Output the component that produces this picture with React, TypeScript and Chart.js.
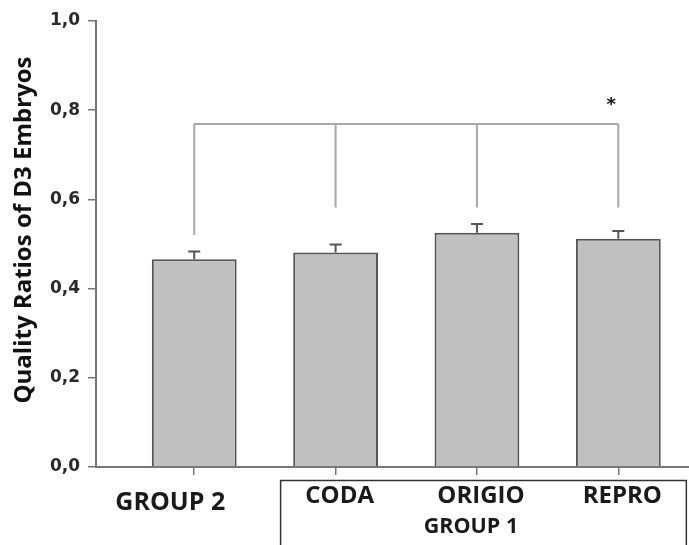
import React, { useEffect, useRef } from "react";
import { Chart, registerables } from "chart.js";

Chart.register(...registerables);

const categories = ["GROUP 2", "CODA", "ORIGIO", "REPRO"];
const values = [0.466, 0.481, 0.525, 0.512];
const errors = [0.017, 0.018, 0.02, 0.017];
const groupLabel = "GROUP 1";
const yTitle = "Quality Ratios of D3 Embryos";
const yTicks = [0, 0.2, 0.4, 0.6, 0.8, 1.0];
const bracketTop = 0.769;
const bracketDrops = [0.52, 0.582, 0.582, 0.582];
const starIndex = 3;
const starValue = 0.817;

const annotate = {
  id: "annotate",
  afterDatasetsDraw(chart: any) {
    const ctx = chart.ctx;
    const xs = chart.scales.x;
    const ys = chart.scales.y;
    ctx.save();
    // error bars
    ctx.strokeStyle = "#555";
    ctx.lineWidth = 2;
    values.forEach((v, i) => {
      const px = xs.getPixelForValue(i);
      const y0 = ys.getPixelForValue(v);
      const y1 = ys.getPixelForValue(v + errors[i]);
      ctx.beginPath();
      ctx.moveTo(px, y0);
      ctx.lineTo(px, y1);
      ctx.moveTo(px - 6, y1);
      ctx.lineTo(px + 6, y1);
      ctx.stroke();
    });
    // bracket
    ctx.strokeStyle = "#a8a8a8";
    ctx.lineWidth = 2;
    const top = ys.getPixelForValue(bracketTop);
    ctx.beginPath();
    ctx.moveTo(xs.getPixelForValue(0), top);
    ctx.lineTo(xs.getPixelForValue(categories.length - 1), top);
    bracketDrops.forEach((d, i) => {
      const px = xs.getPixelForValue(i);
      ctx.moveTo(px, top);
      ctx.lineTo(px, ys.getPixelForValue(d));
    });
    ctx.stroke();
    // star
    ctx.fillStyle = "#111";
    ctx.font = "bold 18px 'DejaVu Sans'";
    ctx.textAlign = "center";
    ctx.textBaseline = "middle";
    ctx.fillText("*", xs.getPixelForValue(starIndex) - 7, ys.getPixelForValue(starValue) + 3);
    ctx.restore();
  },
  afterDraw(chart: any) {
    const ctx = chart.ctx;
    const xs = chart.scales.x;
    const base = chart.chartArea.bottom;
    ctx.save();
    ctx.fillStyle = "#1a1a1a";
    ctx.textAlign = "center";
    ctx.textBaseline = "alphabetic";
    categories.forEach((c, i) => {
      const px = xs.getPixelForValue(i);
      if (i === 0) {
        ctx.font = "bold 25px 'Open Sans'";
        ctx.fillText(c, px - 24, base + 43);
      } else {
        ctx.font = "bold 24px 'Open Sans'";
        ctx.fillText(c, px + 4, base + 36);
      }
    });
    ctx.font = "bold 21.5px 'Open Sans'";
    ctx.fillText(groupLabel, xs.getPixelForValue(2) - 6, base + 66);
    // group box
    ctx.strokeStyle = "#333";
    ctx.lineWidth = 1.5;
    const l = xs.getPixelForValue(1) - 55;
    const r = xs.getPixelForValue(3) + 68;
    const t = base + 13.5;
    ctx.beginPath();
    ctx.moveTo(l, chart.height + 5);
    ctx.lineTo(l, t);
    ctx.lineTo(r, t);
    ctx.lineTo(r, chart.height + 5);
    ctx.stroke();
    // y title
    ctx.translate(24, 230);
    ctx.rotate(-Math.PI / 2);
    ctx.textBaseline = "middle";
    ctx.font = "bold 24px 'Open Sans'";
    ctx.fillStyle = "#111";
    ctx.fillText(yTitle, 0, 0);
    ctx.restore();
  },
};

export default function App() {
  const ref = useRef<HTMLCanvasElement>(null);
  useEffect(() => {
    const chart = new Chart(ref.current!, {
      type: "bar",
      data: {
        datasets: [
          {
            data: values.map((v, i) => ({ x: i, y: v })),
            backgroundColor: "#c0c0c0",
            borderColor: "#555",
            borderWidth: 2,
            barPercentage: 0.6,
            categoryPercentage: 1,
          },
        ],
      },
      options: {
        animation: false,
        responsive: false,
        devicePixelRatio: 1,
        layout: { padding: { top: 21, left: 0, right: 0, bottom: 0 } },
        plugins: { legend: { display: false }, tooltip: { enabled: false } },
        scales: {
          x: {
            type: "linear",
            offset: false,
            min: -0.695,
            max: 3.5,
            afterBuildTicks: (s: any) => {
              s.ticks = categories.map((_, i) => ({ value: i }));
            },
            afterFit: (s: any) => {
              s.height = 78;
            },
            ticks: { display: false },
            grid: { offset: false, drawOnChartArea: false, drawTicks: true, tickLength: 8, color: "#777", lineWidth: 1.5 },
            border: { display: true, color: "#777", width: 2 },
          },
          y: {
            min: 0,
            max: 1,
            afterBuildTicks: (s: any) => {
              s.ticks = yTicks.map((v) => ({ value: v }));
            },
            afterFit: (s: any) => {
              s.width = 96;
            },
            ticks: {
              padding: 8,
              color: "#2a2a2a",
              font: { family: "'DejaVu Sans'", weight: "bold", size: 17 },
              callback: (v: any) => Number(v).toFixed(1).replace(".", ","),
            },
            grid: { drawOnChartArea: false, drawTicks: true, tickLength: 8, color: "#777", lineWidth: 1.5 },
            border: { display: true, color: "#777", width: 2 },
          },
        },
      },
      plugins: [annotate],
    });
    return () => chart.destroy();
  }, []);
  return (
    <div style={{ position: "fixed", left: 0, top: 0, width: 689, height: 545, background: "#fff" }}>
      <canvas ref={ref} width={689} height={545} style={{ width: 689, height: 545, display: "block" }} />
    </div>
  );
}
